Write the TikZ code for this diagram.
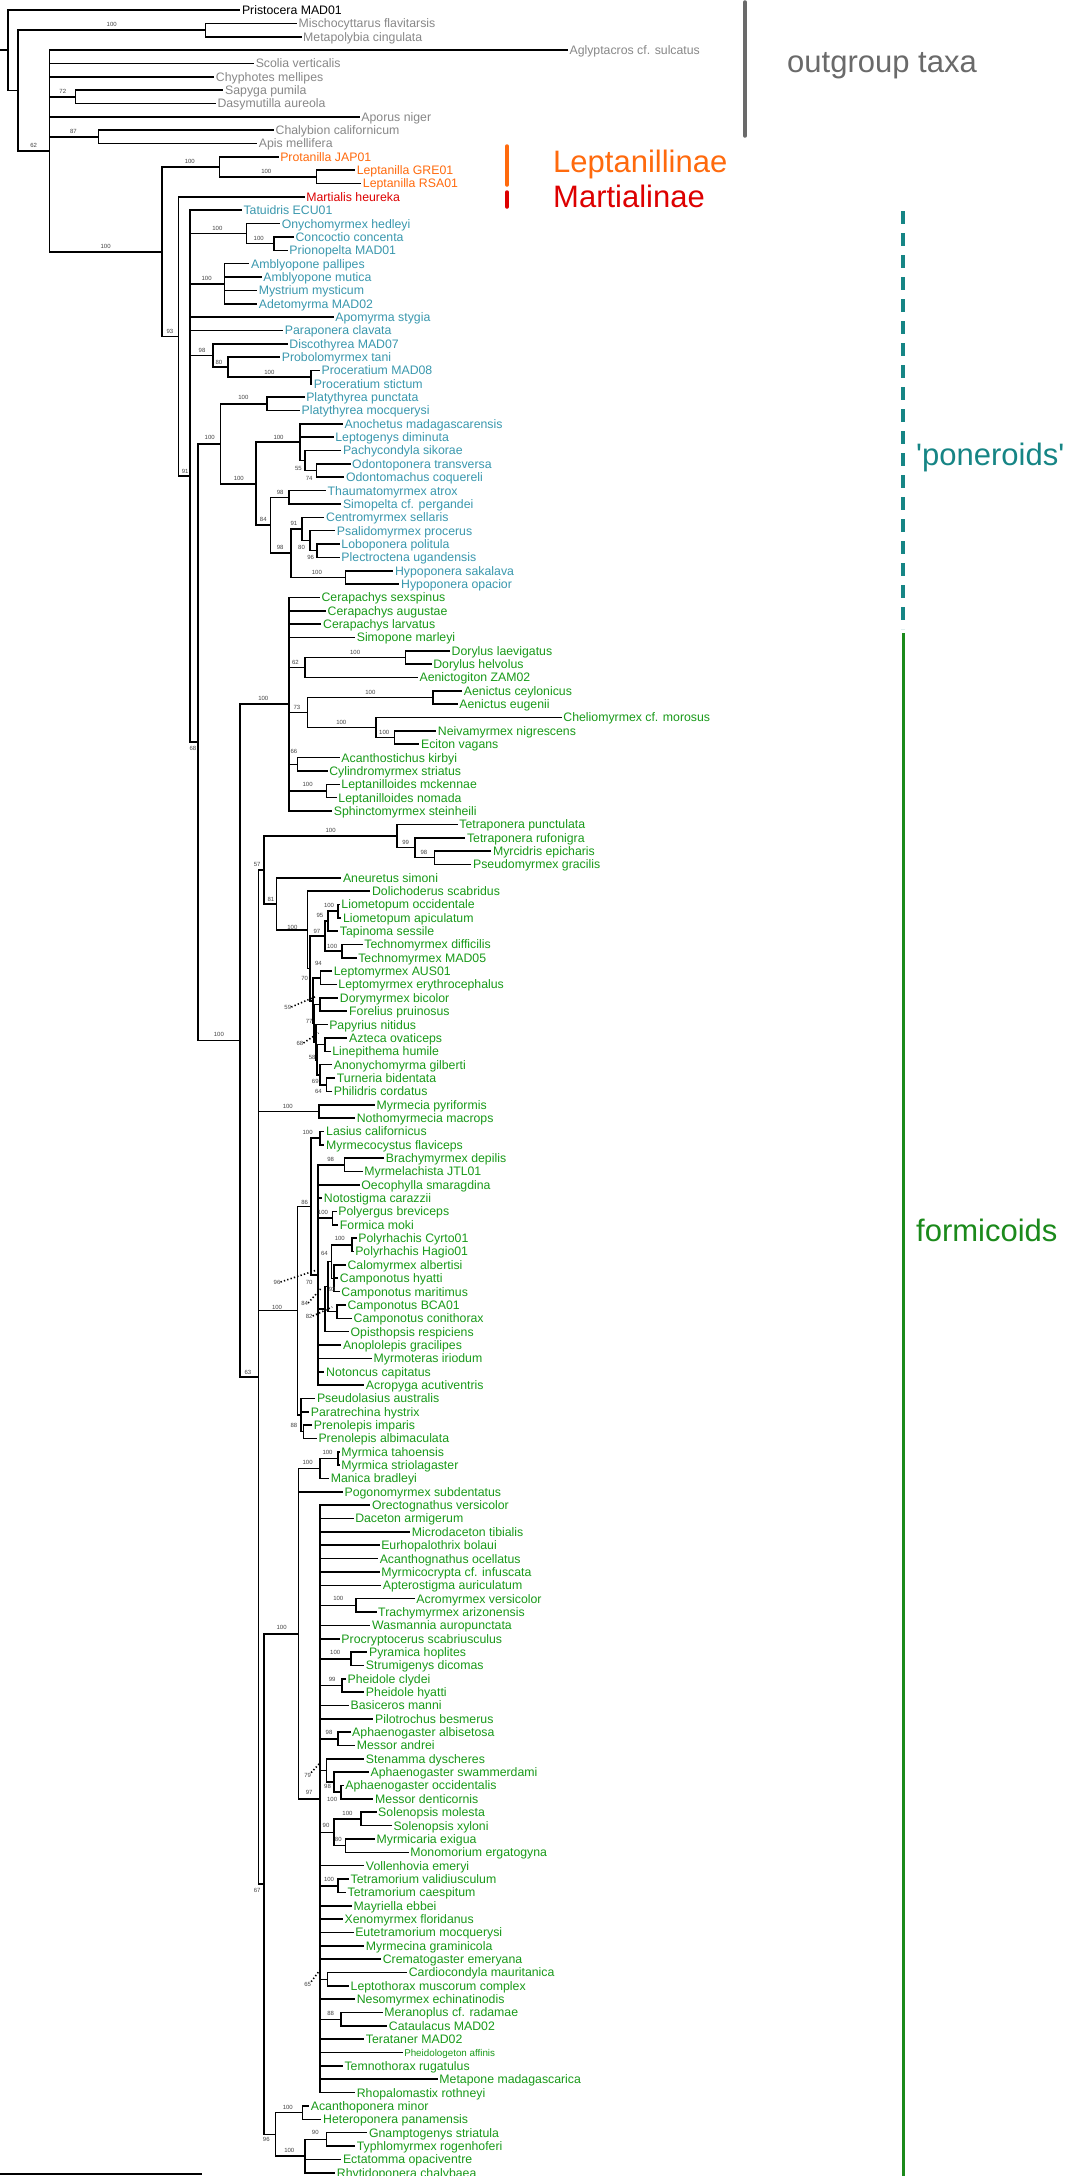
\documentclass[tikz,border=0pt]{standalone}
\usepackage{fontspec}
\newfontfamily\tipfont{Liberation Sans}
\definecolor{ogray}{HTML}{888888}
\definecolor{grpgray}{HTML}{6A6A6A}
\definecolor{lepor}{HTML}{FF6A0D}
\definecolor{marred}{HTML}{DD0000}
\definecolor{ponT}{HTML}{3A98AE}
\definecolor{frmT}{HTML}{199A19}
\definecolor{ponL}{HTML}{168585}
\definecolor{frmL}{HTML}{1B8A1B}
\definecolor{supc}{HTML}{444444}
% a leaf: [options] name, x, row, parent, text
\newcommand\tleaf[6][]{%
  \node[tiplab,#1] (#2) at (#3,{ty(#4)}) {#6};
  \draw[br] (#5) |- (#2.west);}
% an inner node: name, x, y, parent
\newcommand\inod[4]{%
  \coordinate (#1) at (#2,#3);
  \draw[br] (#4) |- (#1);}
\begin{document}
\begin{tikzpicture}[x=1.5306pt,y=-1pt,
  declare function={ty(\i)=10+(\i-1)*13.35;},
  br/.style={line width=1.6pt,black},
  tipcol/.style={text=black},
  tiplab/.style={anchor=west,inner xsep=1.5pt,inner ysep=0pt,text height=8.8pt,text depth=0pt,
    font=\tipfont\fontsize{12.3}{14}\selectfont,tipcol},
  smalltip/.style={font=\tipfont\fontsize{9.8}{11}\selectfont,text height=7pt},
  sup/.style={font=\tipfont\fontsize{6}{7}\selectfont,text=supc,inner sep=0pt},
  lead/.style={line width=1.6pt,dash pattern=on 1.3pt off 2.2pt},
  grp/.style={font=\tipfont\fontsize{31}{36}\selectfont,anchor=base west,inner sep=0pt},
  bar/.style={line width=3.5pt,line cap=round}]
\fill[white] (0pt,0pt) rectangle (1088pt,-2176pt);
\useasboundingbox (0pt,0pt) rectangle (1088pt,-2176pt);

% ---------- inner nodes ----------
\coordinate (root0) at (0,50.2);
\coordinate (R) at (5.3,50.2);
\draw[br] (root0) -- (R);
\inod{A}{11.7}{90.5}{R}
\inod{MM}{134.3}{30.0}{A}
\inod{OG62}{32.3}{150.9}{A}
\inod{SD}{49.3}{96.8}{OG62}
\inod{CA}{64.3}{136.8}{OG62}
\inod{ING}{106}{251.7}{OG62}
\inod{LP}{143.3}{166.9}{ING}
\inod{LG}{206.7}{176.9}{LP}
\inod{M91}{116.7}{336.6}{ING}
\inod{PON68}{124.3}{476.2}{M91}
\inod{ON}{161}{233.6}{PON68}
\inod{CC}{179}{243.6}{ON}
\inod{AM}{146.7}{283.7}{PON68}
\inod{PC}{139}{355.4}{PON68}
\inod{PB}{149}{367.1}{PC}
\inod{PM}{203}{377.1}{PB}
\inod{PF}{129.3}{742.2}{PON68}
\inod{PP}{144}{443.8}{PF}
\inod{PL}{174.3}{403.8}{PP}
\inod{PON}{167.3}{483.7}{PP}
\inod{OG}{196}{442.2}{PON}
\inod{PO}{199.3}{460.6}{OG}
\inod{OO}{206.7}{470.6}{PO}
\inod{P84}{176.7}{525.2}{PON}
\inod{TS}{189}{497.3}{P84}
\inod{L98}{190}{553.1}{P84}
\inod{CE}{197.5}{528.9}{L98}
\inod{PS}{202.7}{540.6}{CE}
\inod{LP2}{207.3}{550.6}{PS}
\inod{HY}{225.7}{577.3}{L98}
\inod{FORM}{156.7}{1040.6}{PF}
\inod{DORY}{188.7}{704.2}{FORM}
\inod{D62}{199.3}{667.5}{DORY}
\inod{DOR}{265}{657.5}{D62}
\inod{D73}{201}{712.5}{DORY}
\inod{AEN}{282.7}{697.5}{D73}
\inod{ECI}{245.7}{727.6}{D73}
\inod{NE}{257.7}{737.6}{ECI}
\inod{AC}{194.3}{764.3}{DORY}
\inod{LL}{213.3}{791.0}{DORY}
\inod{F63}{169}{1376.9}{FORM}
\inod{P57}{172.3}{869.8}{F63}
\inod{PSE}{259.3}{835.7}{P57}
\inod{P99}{271}{847.4}{PSE}
\inod{PM98}{284}{857.4}{P99}
\inod{A81}{180.7}{903.8}{P57}
\inod{DOL}{201}{929.8}{A81}
\inod{D70}{202.7}{968.4}{DOL}
\inod{D97}{212.3}{936.2}{D70}
\inod{D95}{214.3}{921.1}{D97}
\inod{LIO}{221}{911.1}{D95}
\inod{TEC}{223.3}{951.2}{D97}
\inod{D3}{204.3}{1000.7}{D70}
\inod{LEP}{209.3}{977.9}{D3}
\inod{D77}{205.3}{1023.4}{D3}
\inod{DF}{209}{1004.6}{D77}
\inod{D68}{206.3}{1042.2}{D77}
\inod{D58}{207.3}{1059.7}{D68}
\inod{AZ}{212.3}{1044.6}{D58}
\inod{AT}{209}{1074.7}{D58}
\inod{TP}{213.3}{1084.7}{AT}
\inod{MYR}{208.3}{1111.4}{F63}
\inod{FOR}{194.3}{1310.6}{F63}
\inod{F86}{203.3}{1206.5}{FOR}
\inod{LAS}{209}{1138.1}{F86}
\inod{F96}{207.7}{1274.9}{F86}
\inod{BRA}{225}{1164.8}{F96}
\inod{POL}{217.3}{1218.2}{F96}
\inod{CAMP}{212.5}{1309.1}{F96}
\inod{P84b}{214.3}{1286.6}{CAMP}
\inod{P64}{216.7}{1261.6}{P84b}
\inod{PRH}{230}{1244.9}{P64}
\inod{C93}{218.3}{1278.3}{P64}
\inod{CB}{220}{1311.6}{P84b}
\inod{PG}{196.7}{1414.7}{FOR}
\inod{P88}{198.3}{1431.4}{PG}
\inod{MY67}{172.3}{1884}{F63}
\inod{MYRM}{195}{1633.7}{MY67}
\inod{MAN}{209}{1468.5}{MYRM}
\inod{MYA}{221}{1458.5}{MAN}
\inod{M97}{209}{1798.9}{MYRM}
\inod{ATT}{232.7}{1605.3}{M97}
\inod{PYR}{229.3}{1658.7}{M97}
\inod{PHE}{223.3}{1685.4}{M97}
\inod{APH}{220.7}{1738.8}{M97}
\inod{ST}{213.3}{1770.5}{M97}
\inod{SW}{218.3}{1782.2}{ST}
\inod{OD}{222.7}{1792.2}{SW}
\inod{S90}{218.3}{1832.3}{M97}
\inod{SOL}{236}{1818.9}{S90}
\inod{MMO}{225.7}{1845.6}{S90}
\inod{TET}{220.7}{1885.7}{M97}
\inod{CAR}{214}{1979.5}{M97}
\inod{MER}{222.7}{2019.5}{M97}
\inod{E96}{180}{2134.3}{MY67}
\inod{AH}{197.7}{2112.6}{E96}
\inod{ECT}{199.3}{2156.0}{E96}
\inod{GT}{213.3}{2139.3}{ECT}

% ---------- outgroup taxa ----------
\tleaf{t1}{157}{1}{R}{Pristocera MAD01}
\tikzset{tipcol/.style={text=ogray}}
\tleaf{t2}{194}{2}{MM}{Mischocyttarus flavitarsis}
\tleaf{t3}{197}{3}{MM}{Metapolybia cingulata}
\tleaf{t4}{371}{4}{OG62}{Aglyptacros cf. sulcatus}
\tleaf{t5}{166}{5}{OG62}{Scolia verticalis}
\tleaf{t6}{140}{6}{OG62}{Chyphotes mellipes}
\tleaf{t7}{146}{7}{SD}{Sapyga pumila}
\tleaf{t8}{141}{8}{SD}{Dasymutilla aureola}
\tleaf{t9}{235}{9}{OG62}{Aporus niger}
\tleaf{t10}{179}{10}{CA}{Chalybion californicum}
\tleaf{t11}{168}{11}{CA}{Apis mellifera}
% ---------- Leptanillinae and Martialinae ----------
\tikzset{tipcol/.style={text=lepor}}
\tleaf{t12}{182}{12}{LP}{Protanilla JAP01}
\tleaf{t13}{232}{13}{LG}{Leptanilla GRE01}
\tleaf{t14}{236}{14}{LG}{Leptanilla RSA01}
\tikzset{tipcol/.style={text=marred}}
\tleaf{t15}{199}{15}{M91}{Martialis heureka}
% ---------- poneroids ----------
\tikzset{tipcol/.style={text=ponT}}
\tleaf{t16}{158}{16}{PON68}{Tatuidris ECU01}
\tleaf{t17}{183}{17}{ON}{Onychomyrmex hedleyi}
\tleaf{t18}{192}{18}{CC}{Concoctio concenta}
\tleaf{t19}{188}{19}{CC}{Prionopelta MAD01}
\tleaf{t20}{163}{20}{AM}{Amblyopone pallipes}
\tleaf{t21}{171}{21}{AM}{Amblyopone mutica}
\tleaf{t22}{168}{22}{AM}{Mystrium mysticum}
\tleaf{t23}{168}{23}{AM}{Adetomyrma MAD02}
\tleaf{t24}{218}{24}{PON68}{Apomyrma stygia}
\tleaf{t25}{185}{25}{PON68}{Paraponera clavata}
\tleaf{t26}{188}{26}{PC}{Discothyrea MAD07}
\tleaf{t27}{183}{27}{PB}{Probolomyrmex tani}
\tleaf{t28}{209}{28}{PM}{Proceratium MAD08}
\tleaf{t29}{204}{29}{PM}{Proceratium stictum}
\tleaf{t30}{199}{30}{PL}{Platythyrea punctata}
\tleaf{t31}{196}{31}{PL}{Platythyrea mocquerysi}
\tleaf{t32}{224}{32}{OG}{Anochetus madagascarensis}
\tleaf{t33}{218}{33}{OG}{Leptogenys diminuta}
\tleaf{t34}{223}{34}{PO}{Pachycondyla sikorae}
\tleaf{t35}{229}{35}{OO}{Odontoponera transversa}
\tleaf{t36}{225}{36}{OO}{Odontomachus coquereli}
\tleaf{t37}{213}{37}{TS}{Thaumatomyrmex atrox}
\tleaf{t38}{223}{38}{TS}{Simopelta cf. pergandei}
\tleaf{t39}{212}{39}{CE}{Centromyrmex sellaris}
\tleaf{t40}{219}{40}{PS}{Psalidomyrmex procerus}
\tleaf{t41}{222}{41}{LP2}{Loboponera politula}
\tleaf{t42}{222}{42}{LP2}{Plectroctena ugandensis}
\tleaf{t43}{257}{43}{HY}{Hypoponera sakalava}
\tleaf{t44}{261}{44}{HY}{Hypoponera opacior}
% ---------- formicoids ----------
\tikzset{tipcol/.style={text=frmT}}
\tleaf{t45}{209}{45}{DORY}{Cerapachys sexspinus}
\tleaf{t46}{213}{46}{DORY}{Cerapachys augustae}
\tleaf{t47}{210}{47}{DORY}{Cerapachys larvatus}
\tleaf{t48}{232}{48}{DORY}{Simopone marleyi}
\tleaf{t49}{294}{49}{DOR}{Dorylus laevigatus}
\tleaf{t50}{282}{50}{DOR}{Dorylus helvolus}
\tleaf{t51}{273}{51}{D62}{Aenictogiton ZAM02}
\tleaf{t52}{302}{52}{AEN}{Aenictus ceylonicus}
\tleaf{t53}{299}{53}{AEN}{Aenictus eugenii}
\tleaf{t54}{367}{54}{ECI}{Cheliomyrmex cf. morosus}
\tleaf{t55}{285}{55}{NE}{Neivamyrmex nigrescens}
\tleaf{t56}{274}{56}{NE}{Eciton vagans}
\tleaf{t57}{222}{57}{AC}{Acanthostichus kirbyi}
\tleaf{t58}{214}{58}{AC}{Cylindromyrmex striatus}
\tleaf{t59}{222}{59}{LL}{Leptanilloides mckennae}
\tleaf{t60}{220}{60}{LL}{Leptanilloides nomada}
\tleaf{t61}{217}{61}{DORY}{Sphinctomyrmex steinheili}
\tleaf{t62}{299}{62}{PSE}{Tetraponera punctulata}
\tleaf{t63}{304}{63}{P99}{Tetraponera rufonigra}
\tleaf{t64}{321}{64}{PM98}{Myrcidris epicharis}
\tleaf{t65}{308}{65}{PM98}{Pseudomyrmex gracilis}
\tleaf{t66}{223}{66}{A81}{Aneuretus simoni}
\tleaf{t67}{242}{67}{DOL}{Dolichoderus scabridus}
\tleaf{t68}{222}{68}{LIO}{Liometopum occidentale}
\tleaf{t69}{223}{69}{LIO}{Liometopum apiculatum}
\tleaf{t70}{221}{70}{D95}{Tapinoma sessile}
\tleaf{t71}{237}{71}{TEC}{Technomyrmex difficilis}
\tleaf{t72}{233}{72}{TEC}{Technomyrmex MAD05}
\tleaf{t73}{217}{73}{LEP}{Leptomyrmex AUS01}
\tleaf{t74}{220}{74}{LEP}{Leptomyrmex erythrocephalus}
\tleaf{t75}{221}{75}{DF}{Dorymyrmex bicolor}
\tleaf{t76}{227}{76}{DF}{Forelius pruinosus}
\tleaf{t77}{214}{77}{D68}{Papyrius nitidus}
\tleaf{t78}{227}{78}{AZ}{Azteca ovaticeps}
\tleaf{t79}{216}{79}{AZ}{Linepithema humile}
\tleaf{t80}{217}{80}{AT}{Anonychomyrma gilberti}
\tleaf{t81}{219}{81}{TP}{Turneria bidentata}
\tleaf{t82}{217}{82}{TP}{Philidris cordatus}
\tleaf{t83}{245}{83}{MYR}{Myrmecia pyriformis}
\tleaf{t84}{232}{84}{MYR}{Nothomyrmecia macrops}
\tleaf{t85}{212}{85}{LAS}{Lasius californicus}
\tleaf{t86}{212}{86}{LAS}{Myrmecocystus flaviceps}
\tleaf{t87}{251}{87}{BRA}{Brachymyrmex depilis}
\tleaf{t88}{237}{88}{BRA}{Myrmelachista JTL01}
\tleaf{t89}{235}{89}{F96}{Oecophylla smaragdina}
\tleaf{t90}{210.5}{90}{F96}{Notostigma carazzii}
\tleaf{t91}{220}{91}{POL}{Polyergus breviceps}
\tleaf{t92}{221}{92}{POL}{Formica moki}
\tleaf{t93}{233}{93}{PRH}{Polyrhachis Cyrto01}
\tleaf{t94}{231}{94}{PRH}{Polyrhachis Hagio01}
\tleaf{t95}{226}{95}{C93}{Calomyrmex albertisi}
\tleaf{t96}{221}{96}{C93}{Camponotus hyatti}
\tleaf{t97}{222}{97}{C93}{Camponotus maritimus}
\tleaf{t98}{226}{98}{CB}{Camponotus BCA01}
\tleaf{t99}{230}{99}{CB}{Camponotus conithorax}
\tleaf{t100}{228}{100}{CAMP}{Opisthopsis respiciens}
\tleaf{t101}{223}{101}{F96}{Anoplolepis gracilipes}
\tleaf{t102}{243}{102}{F96}{Myrmoteras iriodum}
\tleaf{t103}{212}{103}{F96}{Notoncus capitatus}
\tleaf{t104}{238}{104}{F96}{Acropyga acutiventris}
\tleaf{t105}{206}{105}{PG}{Pseudolasius australis}
\tleaf{t106}{202}{106}{PG}{Paratrechina hystrix}
\tleaf{t107}{204}{107}{P88}{Prenolepis imparis}
\tleaf{t108}{207}{108}{P88}{Prenolepis albimaculata}
\tleaf{t109}{222}{109}{MYA}{Myrmica tahoensis}
\tleaf{t110}{222}{110}{MYA}{Myrmica striolagaster}
\tleaf{t111}{215}{111}{MAN}{Manica bradleyi}
\tleaf{t112}{224}{112}{MYRM}{Pogonomyrmex subdentatus}
\tleaf{t113}{242}{113}{M97}{Orectognathus versicolor}
\tleaf{t114}{231}{114}{M97}{Daceton armigerum}
\tleaf{t115}{268}{115}{M97}{Microdaceton tibialis}
\tleaf{t116}{248}{116}{M97}{Eurhopalothrix bolaui}
\tleaf{t117}{247}{117}{M97}{Acanthognathus ocellatus}
\tleaf{t118}{248}{118}{M97}{Myrmicocrypta cf. infuscata}
\tleaf{t119}{249}{119}{M97}{Apterostigma auriculatum}
\tleaf{t120}{271}{120}{ATT}{Acromyrmex versicolor}
\tleaf{t121}{246}{121}{ATT}{Trachymyrmex arizonensis}
\tleaf{t122}{242}{122}{M97}{Wasmannia auropunctata}
\tleaf{t123}{222}{123}{M97}{Procryptocerus scabriusculus}
\tleaf{t124}{240}{124}{PYR}{Pyramica hoplites}
\tleaf{t125}{238}{125}{PYR}{Strumigenys dicomas}
\tleaf{t126}{226}{126}{PHE}{Pheidole clydei}
\tleaf{t127}{238}{127}{PHE}{Pheidole hyatti}
\tleaf{t128}{228}{128}{M97}{Basiceros manni}
\tleaf{t129}{244}{129}{M97}{Pilotrochus besmerus}
\tleaf{t130}{229}{130}{APH}{Aphaenogaster albisetosa}
\tleaf{t131}{232}{131}{APH}{Messor andrei}
\tleaf{t132}{238}{132}{ST}{Stenamma dyscheres}
\tleaf{t133}{241}{133}{SW}{Aphaenogaster swammerdami}
\tleaf{t134}{224.5}{134}{OD}{Aphaenogaster occidentalis}
\tleaf{t135}{244}{135}{OD}{Messor denticornis}
\tleaf{t136}{246}{136}{SOL}{Solenopsis molesta}
\tleaf{t137}{256}{137}{SOL}{Solenopsis xyloni}
\tleaf{t138}{245}{138}{MMO}{Myrmicaria exigua}
\tleaf{t139}{267}{139}{MMO}{Monomorium ergatogyna}
\tleaf{t140}{238}{140}{M97}{Vollenhovia emeryi}
\tleaf{t141}{228}{141}{TET}{Tetramorium validiusculum}
\tleaf{t142}{226}{142}{TET}{Tetramorium caespitum}
\tleaf{t143}{230}{143}{M97}{Mayriella ebbei}
\tleaf{t144}{224}{144}{M97}{Xenomyrmex floridanus}
\tleaf{t145}{231}{145}{M97}{Eutetramorium mocquerysi}
\tleaf{t146}{238}{146}{M97}{Myrmecina graminicola}
\tleaf{t147}{249}{147}{M97}{Crematogaster emeryana}
\tleaf{t148}{266}{148}{CAR}{Cardiocondyla mauritanica}
\tleaf{t149}{228}{149}{CAR}{Leptothorax muscorum complex}
\tleaf{t150}{232}{150}{M97}{Nesomyrmex echinatinodis}
\tleaf{t151}{250}{151}{MER}{Meranoplus cf. radamae}
\tleaf{t152}{253}{152}{MER}{Cataulacus MAD02}
\tleaf{t153}{238}{153}{M97}{Terataner MAD02}
\tleaf[smalltip]{t154}{263}{154}{M97}{Pheidologeton affinis}
\tleaf{t155}{224}{155}{M97}{Temnothorax rugatulus}
\tleaf{t156}{286}{156}{M97}{Metapone madagascarica}
\tleaf{t157}{232}{157}{M97}{Rhopalomastix rothneyi}
\tleaf{t158}{202}{158}{AH}{Acanthoponera minor}
\tleaf{t159}{210}{159}{AH}{Heteroponera panamensis}
\tleaf{t160}{240}{160}{GT}{Gnamptogenys striatula}
\tleaf{t161}{232}{161}{GT}{Typhlomyrmex rogenhoferi}
\tleaf{t162}{223}{162}{ECT}{Ectatomma opaciventre}
\tleaf{t163}{219}{163}{ECT}{Rhytidoponera chalybaea}

% ---------- support values ----------
\node[sup] (s1) at (73,24) {100};
\node[sup] (s2) at (41,91) {72};
\node[sup] (s3) at (48,131) {87};
\node[sup] (s4) at (22,145) {62};
\node[sup] (s5) at (124,161) {100};
\node[sup] (s6) at (174,171) {100};
\node[sup] (s7) at (69,246) {100};
\node[sup] (s8) at (142,228) {100};
\node[sup] (s9) at (169,238) {100};
\node[sup] (s10) at (135,278) {100};
\node[sup] (s11) at (111,331) {93};
\node[sup] (s12) at (132,350) {98};
\node[sup] (s13) at (143,362) {80};
\node[sup] (s14) at (176,372) {100};
\node[sup] (s15) at (159,397) {100};
\node[sup] (s16) at (121,471) {91};
\node[sup] (s17) at (137,437) {100};
\node[sup] (s18) at (182,437) {100};
\node[sup] (s19) at (156,478) {100};
\node[sup] (s20) at (195,468) {55};
\node[sup] (s21) at (202,478) {74};
\node[sup] (s22) at (183,492) {98};
\node[sup] (s23) at (172,519) {84};
\node[sup] (s24) at (192,523) {91};
\node[sup] (s25) at (183,547) {98};
\node[sup] (s26) at (197,547) {80};
\node[sup] (s27) at (203,557) {96};
\node[sup] (s28) at (207,572) {100};
\node[sup] (s29) at (126,748) {68};
\node[sup] (s30) at (143,1034) {100};
\node[sup] (s31) at (172,698) {100};
\node[sup] (s32) at (193,662) {62};
\node[sup] (s33) at (232,652) {100};
\node[sup] (s34) at (194,707) {73};
\node[sup] (s35) at (242,692) {100};
\node[sup] (s36) at (223,722) {100};
\node[sup] (s37) at (251,732) {100};
\node[sup] (s38) at (192,751) {66};
\node[sup] (s39) at (201,784) {100};
\node[sup] (s40) at (168,864) {57};
\node[sup] (s41) at (216,830) {100};
\node[sup] (s42) at (265,842) {99};
\node[sup] (s43) at (277,852) {98};
\node[sup] (s44) at (177,899) {81};
\node[sup] (s45) at (191,927) {100};
\node[sup] (s46) at (215,905) {100};
\node[sup] (s47) at (209,915) {95};
\node[sup] (s48) at (207,931) {97};
\node[sup] (s49) at (217,946) {100};
\node[sup] (s50) at (208,963) {94};
\node[sup] (s51) at (199,978) {70};
\node[sup] (s52) at (188,1007) {59};
\node[sup] (s53) at (202,1021) {77};
\node[sup] (s54) at (196,1043) {68};
\node[sup] (s55) at (204,1057) {58};
\node[sup] (s56) at (206,1081) {69};
\node[sup] (s57) at (208,1091) {64};
\node[sup] (s58) at (188,1106) {100};
\node[sup] (s59) at (201,1132) {100};
\node[sup] (s60) at (216,1159) {98};
\node[sup] (s61) at (199,1202) {86};
\node[sup] (s62) at (211,1212) {100};
\node[sup] (s63) at (222,1238) {100};
\node[sup] (s64) at (212,1253) {64};
\node[sup] (s65) at (181,1282) {96};
\node[sup] (s66) at (202,1282) {70};
\node[sup] (s67) at (217,1289) {93};
\node[sup] (s68) at (199,1303) {84};
\node[sup] (s69) at (202,1316) {82};
\node[sup] (s70) at (181,1307) {100};
\node[sup] (s71) at (162,1372) {63};
\node[sup] (s72) at (192,1425) {88};
\node[sup] (s73) at (201,1462) {100};
\node[sup] (s74) at (214,1452) {100};
\node[sup] (s75) at (221,1598) {100};
\node[sup] (s76) at (184,1627) {100};
\node[sup] (s77) at (219,1652) {100};
\node[sup] (s78) at (217,1679) {99};
\node[sup] (s79) at (215,1732) {98};
\node[sup] (s80) at (201,1775) {79};
\node[sup] (s81) at (214,1786) {98};
\node[sup] (s82) at (217,1799) {100};
\node[sup] (s83) at (202,1792) {97};
\node[sup] (s84) at (227,1813) {100};
\node[sup] (s85) at (213,1825) {90};
\node[sup] (s86) at (221,1839) {80};
\node[sup] (s87) at (168,1890) {67};
\node[sup] (s88) at (215,1879) {100};
\node[sup] (s89) at (201,1984) {65};
\node[sup] (s90) at (216,2013) {88};
\node[sup] (s91) at (188,2107) {100};
\node[sup] (s92) at (206,2132) {90};
\node[sup] (s93) at (174,2139) {96};
\node[sup] (s94) at (189,2150) {100};

% dotted leaders from crowded values to their nodes
\coordinate (q52) at (207,996);
\coordinate (q54) at (208,1033);
\coordinate (q65) at (207,1270);
\coordinate (q68) at (210,1288);
\coordinate (q69) at (217,1307);
\coordinate (q80) at (209,1763);
\coordinate (q89) at (209,1970);
\draw[lead] (s52.east) -- (q52);
\draw[lead] (s54.east) -- (q54);
\draw[lead] (s65.east) -- (q65);
\draw[lead] (s68.east) -- (q68);
\draw[lead] (s69.east) -- (q69);
\draw[lead] (s80.north east) -- (q80);
\draw[lead] (s89.north east) -- (q89);

% scale bar
\coordinate (sb0) at (0,2174);
\coordinate (sb1) at (132,2174);
\draw[line width=2.2pt] (sb0) -- (sb1);

% ---------- group brackets and names ----------
\draw[bar,grpgray] (745pt,-2pt) -- (745pt,-136pt);
\node[grp,text=grpgray] (gOut) at (787pt,-72pt) {outgroup taxa};
\draw[bar,lepor] (507pt,-146pt) -- (507pt,-185pt);
\node[grp,text=lepor] (gLep) at (553pt,-172pt) {Leptanillinae};
\draw[bar,marred] (507pt,-192pt) -- (507pt,-207pt);
\node[grp,text=marred] (gMar) at (553pt,-207pt) {Martialinae};
\draw[bar,ponL,line cap=butt,dash pattern=on 13pt off 9pt] (903pt,-211pt) -- (903pt,-629pt);
\node[grp,text=ponL] (gPon) at (916pt,-465pt) {'poneroids'};
\draw[line width=3pt,frmL] (903pt,-633pt) -- (903pt,-2176pt);
\node[grp,text=frmL] (gFrm) at (916pt,-1241pt) {formicoids};
\end{tikzpicture}
\end{document}
